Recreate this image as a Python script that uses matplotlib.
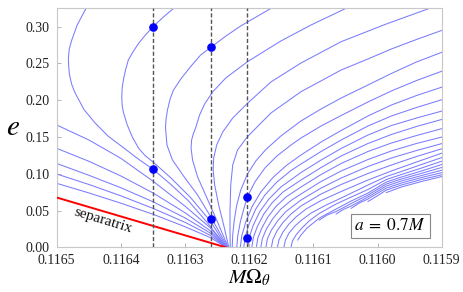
import matplotlib
matplotlib.use("Agg")
import matplotlib.pyplot as plt
import numpy as np

plt.rcParams['font.family'] = ['Liberation Serif', 'DejaVu Serif']
plt.rcParams['mathtext.fontset'] = 'stix'

# x values are given as offsets below 0.1165 in units of 1e-4
OMEGA_REF = 0.1165
UNIT = 1e-4

# separatrix
sep_dx = [0.0, 2.634]
sep_e = [0.0677, 0.0]

# lines leaving through the left edge
L1_dx = [0, 0.5, 1.0, 1.5, 2.0, 2.4, 2.638]
L1_e = [0.087, 0.074, 0.060, 0.045, 0.028, 0.013, 0]
L2_dx = [0, 0.5, 1.0, 1.5, 2.0, 2.4, 2.640]
L2_e = [0.0997, 0.0855, 0.070, 0.053, 0.034, 0.016, 0]
L3_dx = [0, 0.5, 1.0, 1.5, 2.0, 2.4, 2.642]
L3_e = [0.114, 0.098, 0.081, 0.062, 0.040, 0.019, 0]
L4_dx = [0, 0.5, 1.0, 1.5, 2.0, 2.4, 2.644]
L4_e = [0.1346, 0.117, 0.097, 0.074, 0.047, 0.022, 0]
L5_dx = [0, 0.5, 1.0, 1.5, 2.0, 2.4, 2.646]
L5_e = [0.1663, 0.146, 0.121, 0.090, 0.056, 0.026, 0]

# curves with a turning point
C1_dx = [0.49, 0.39, 0.318, 0.235, 0.195, 0.182, 0.187, 0.200, 0.236, 0.286, 0.427, 0.599, 0.803, 1.017, 1.257, 1.502, 1.773, 2.055, 2.352, 2.648]
C1_e = [0.330, 0.314, 0.302, 0.282, 0.2695, 0.257, 0.245, 0.234, 0.221, 0.210, 0.187, 0.169, 0.151, 0.137, 0.121, 0.106, 0.086, 0.063, 0.033, 0]
C2_dx = [1.89, 1.663, 1.502, 1.385, 1.277, 1.19, 1.116, 1.075, 1.045, 1.020, 1.014, 1.020, 1.038, 1.100, 1.178, 1.277, 1.38, 1.502, 1.773, 2.086, 2.399, 2.652]
C2_e = [0.330, 0.3132, 0.300, 0.289, 0.2774, 0.266, 0.2547, 0.242, 0.2302, 0.217, 0.2044, 0.193, 0.1840, 0.1663, 0.1500, 0.1346, 0.1245, 0.1160, 0.0949, 0.0677, 0.0351, 0]
C3_dx = [3.44, 2.868, 2.64, 2.415, 2.243, 2.086, 1.945, 1.820, 1.765, 1.726, 1.705, 1.695, 1.718, 1.804, 1.976, 2.196, 2.415, 2.665]
C3_e = [0.330, 0.3010, 0.2875, 0.2728, 0.2615, 0.2456, 0.2302, 0.2139, 0.201, 0.1867, 0.175, 0.1636, 0.1391, 0.1187, 0.0970, 0.0711, 0.0394, 0]
C4_dx = [4.63, 3.964, 3.494, 2.973, 2.634, 2.430, 2.305, 2.227, 2.164, 2.128, 2.102, 2.094, 2.117, 2.196, 2.321, 2.493, 2.673]
C4_e = [0.330, 0.3023, 0.2806, 0.2524, 0.2302, 0.2112, 0.1949, 0.1799, 0.1622, 0.154, 0.1459, 0.1350, 0.1187, 0.0956, 0.0711, 0.0371, 0]
C5_dx = [5.97, 5.138, 4.433, 3.807, 3.338, 2.973, 2.743, 2.587, 2.493, 2.446, 2.438, 2.462, 2.524, 2.602, 2.681]
C5_e = [0.330, 0.3037, 0.2796, 0.2506, 0.2248, 0.1958, 0.1758, 0.1568, 0.1391, 0.1214, 0.1051, 0.0847, 0.0575, 0.0303, 0]
C6_dx = [6.1, 5.607, 5.216, 4.851, 4.433, 3.807, 3.338, 2.973, 2.817, 2.743, 2.712, 2.701, 2.701, 2.704]
C6_e = [0.298, 0.2826, 0.2697, 0.2561, 0.2411, 0.2116, 0.1826, 0.1504, 0.1323, 0.1119, 0.0847, 0.0507, 0.0235, 0]
C7_dx = [2.735, 2.743, 2.767, 2.806, 2.868, 2.973, 3.103, 3.260, 3.494, 3.807, 4.120, 4.433, 4.851, 5.216, 5.607, 6.1]
C7_e = [0, 0.0167, 0.0371, 0.0575, 0.0779, 0.0997, 0.1174, 0.1330, 0.1514, 0.1718, 0.1881, 0.2030, 0.2207, 0.2364, 0.2520, 0.2685]

# curves rising from e = 0
C8_dx = [2.806, 2.821, 2.861, 2.915, 2.973, 3.088, 3.244, 3.432, 3.651, 3.807, 4.120, 4.433, 4.851, 5.216, 5.607, 6.1]
C8_e = [0, 0.0154, 0.0344, 0.0521, 0.0688, 0.0888, 0.1078, 0.1242, 0.1391, 0.1486, 0.1650, 0.1792, 0.1976, 0.2126, 0.2268, 0.2426]
C9_dx = [2.861, 2.884, 2.947, 3.041, 3.181, 3.369, 3.588, 3.807, 4.120, 4.433, 4.851, 5.216, 5.607, 6.1]
C9_e = [0, 0.0154, 0.0344, 0.0548, 0.0752, 0.0949, 0.1119, 0.1255, 0.1432, 0.1588, 0.1786, 0.1935, 0.2064, 0.2206]
C10_dx = [2.915, 2.939, 3.001, 3.103, 3.244, 3.432, 3.651, 3.807, 4.120, 4.433, 4.851, 5.216, 5.607, 6.1]
C10_e = [0, 0.0147, 0.0324, 0.0521, 0.0711, 0.0888, 0.1044, 0.1133, 0.1303, 0.1459, 0.1650, 0.1786, 0.1901, 0.2033]
C11_dx = [2.978, 3.001, 3.064, 3.166, 3.307, 3.494, 3.807, 4.120, 4.433, 4.851, 5.216, 5.607, 6.1]
C11_e = [0, 0.0140, 0.0303, 0.0487, 0.0657, 0.0820, 0.1017, 0.1187, 0.1344, 0.1527, 0.1656, 0.1758, 0.1876]
C12_dx = [3.041, 3.064, 3.127, 3.228, 3.354, 3.526, 3.807, 4.120, 4.433, 4.851, 5.216, 5.607, 6.1]
C12_e = [0, 0.0133, 0.0283, 0.0453, 0.0602, 0.0752, 0.0915, 0.1085, 0.1242, 0.1412, 0.1534, 0.1643, 0.1763]
C13_dx = [3.111, 3.134, 3.197, 3.291, 3.416, 3.573, 3.807, 4.120, 4.433, 4.851, 5.216, 5.607, 6.1]
C13_e = [0, 0.0126, 0.0262, 0.0412, 0.0555, 0.0684, 0.0820, 0.0990, 0.1140, 0.1303, 0.1418, 0.1520, 0.1637]
C14_dx = [3.181, 3.205, 3.268, 3.369, 3.494, 3.651, 3.807, 4.120, 4.433, 4.851, 5.216, 5.607, 6.1]
C14_e = [0, 0.0120, 0.0249, 0.0392, 0.0521, 0.0636, 0.0725, 0.0895, 0.1038, 0.1194, 0.1310, 0.1412, 0.1521]
C15_dx = [3.260, 3.283, 3.346, 3.447, 3.573, 3.807, 4.120, 4.433, 4.851, 5.216, 5.607, 6.1]
C15_e = [0, 0.0113, 0.0235, 0.0364, 0.0487, 0.0643, 0.0806, 0.0942, 0.1099, 0.1214, 0.1316, 0.1434]
C16_dx = [3.346, 3.369, 3.432, 3.526, 3.651, 3.807, 4.120, 4.433, 4.851, 5.216, 5.607, 6.1]
C16_e = [0, 0.0106, 0.0222, 0.0337, 0.0453, 0.0562, 0.0725, 0.0854, 0.1004, 0.1119, 0.1235, 0.1366]
C17_dx = [3.440, 3.463, 3.526, 3.620, 3.729, 3.886, 4.120, 4.433, 4.851, 5.216, 5.607, 6.1]
C17_e = [0, 0.0099, 0.0208, 0.0317, 0.0412, 0.0521, 0.0636, 0.0759, 0.0915, 0.1038, 0.1160, 0.1310]
C18_dx = [3.541, 3.565, 3.620, 3.713, 3.807, 3.964, 4.199, 4.433, 4.851, 5.138, 5.372, 5.685, 6.1]
C18_e = [0, 0.0099, 0.0194, 0.0290, 0.0364, 0.0466, 0.0575, 0.0670, 0.0847, 0.0963, 0.1031, 0.1126, 0.1250]
C19_dx = [3.651, 3.674, 3.729, 3.807, 3.933, 4.089, 4.355, 4.590, 4.851, 5.138, 5.372, 5.685, 6.1]
C19_e = [0, 0.0086, 0.0167, 0.0249, 0.0358, 0.0460, 0.0589, 0.0684, 0.0786, 0.0922, 0.0990, 0.1078, 0.1200]

# curves that begin above e = 0 (lower right)
T1_dx = [3.756, 3.807, 3.901, 4.094, 4.355, 4.590, 4.851, 5.138, 5.372, 5.685, 6.1]
T1_e = [0.0099, 0.0167, 0.0262, 0.0398, 0.0521, 0.0630, 0.0738, 0.0888, 0.0956, 0.1038, 0.1154]
T2_dx = [4.094, 4.214, 4.355, 4.590, 4.851, 5.138, 5.372, 5.685, 6.1]
T2_e = [0.0371, 0.0439, 0.0487, 0.0596, 0.0711, 0.0861, 0.0929, 0.1006, 0.1111]
T3_dx = [4.355, 4.465, 4.590, 4.851, 5.138, 5.372, 5.685, 6.1]
T3_e = [0.0453, 0.0514, 0.0562, 0.0684, 0.0834, 0.0902, 0.0976, 0.1071]
T4_dx = [4.590, 4.715, 4.851, 5.138, 5.372, 5.685, 6.1]
T4_e = [0.0530, 0.0602, 0.0657, 0.0806, 0.0874, 0.0949, 0.1036]
T5_dx = [4.851, 4.981, 5.138, 5.372, 5.685, 6.1]
T5_e = [0.0623, 0.0691, 0.0779, 0.0847, 0.0922, 0.1006]
T6_dx = [5.138, 5.372, 5.685, 6.1]
T6_e = [0.0745, 0.0820, 0.0895, 0.0983]

# marked frequencies and points
dashed_omega = [0.11635, 0.11626, 0.116203]
dot_omega = [0.11635, 0.11635, 0.11626, 0.11626, 0.116203, 0.116203]
dot_e = [0.300, 0.106, 0.273, 0.039, 0.069, 0.0127]

x_ticks = [0.1165, 0.1164, 0.1163, 0.1162, 0.1161, 0.1160, 0.1159]
x_tick_labels = ["0.1165", "0.1164", "0.1163", "0.1162", "0.1161", "0.1160", "0.1159"]
y_ticks = [0.00, 0.05, 0.10, 0.15, 0.20, 0.25, 0.30]
y_tick_labels = ["0.00", "0.05", "0.10", "0.15", "0.20", "0.25", "0.30"]

curves = [
    (L1_dx, L1_e), (L2_dx, L2_e), (L3_dx, L3_e), (L4_dx, L4_e), (L5_dx, L5_e),
    (C1_dx, C1_e), (C2_dx, C2_e), (C3_dx, C3_e), (C4_dx, C4_e), (C5_dx, C5_e),
    (C6_dx, C6_e), (C7_dx, C7_e), (C8_dx, C8_e), (C9_dx, C9_e), (C10_dx, C10_e),
    (C11_dx, C11_e), (C12_dx, C12_e), (C13_dx, C13_e), (C14_dx, C14_e), (C15_dx, C15_e),
    (C16_dx, C16_e), (C17_dx, C17_e), (C18_dx, C18_e), (C19_dx, C19_e),
    (T1_dx, T1_e), (T2_dx, T2_e), (T3_dx, T3_e), (T4_dx, T4_e), (T5_dx, T5_e), (T6_dx, T6_e),
]


def to_omega(dx):
    return OMEGA_REF - np.asarray(dx) * UNIT


fig = plt.figure(figsize=(4.63, 2.92), dpi=100)
ax = fig.add_axes([0.1225, 0.153, 0.8315, 0.8186])

for dx, e in curves:
    ax.plot(to_omega(dx), e, color='#7b7bff', lw=0.75, solid_joinstyle='round', zorder=2)

ax.plot(to_omega(sep_dx), sep_e, color='#ff0000', lw=1.4, zorder=3)

for om in dashed_omega:
    ax.axvline(om, color='#555555', lw=1.0, ls=(0, (3, 1.6)), zorder=4)

ax.plot(dot_omega, dot_e, 'o', color='#0000ff', ms=5.2, mec='#0000ff', zorder=5)

ax.set_xlim(0.1165, 0.1159)
ax.set_ylim(0.0, 0.325)
ax.set_xticks(x_ticks)
ax.set_xticklabels(x_tick_labels)
ax.set_yticks(y_ticks)
ax.set_yticklabels(y_tick_labels)
ax.tick_params(direction='in', length=3, width=0.6, color='#aaaaaa', labelsize=10,
               labelcolor='#222222')
ax.tick_params(axis='x', pad=4.5)
ax.tick_params(axis='y', pad=5)

for sp in ax.spines.values():
    sp.set_color('#c8c8c8')
    sp.set_linewidth(0.8)

ax.set_xlabel(r'$M\Omega_\theta$', fontsize=15, labelpad=1)
ax.set_ylabel(r'$e$', fontsize=21, rotation=0, labelpad=9, va='center')

ax.text(0.1164278, 0.0364, 'separatrix', fontsize=11, rotation=-17,
        ha='center', va='center', rotation_mode='anchor', color='#111111', zorder=6)

ax.text(0.866, 0.089, r'$a\;=\;0.7M$', transform=ax.transAxes, fontsize=12.5,
        ha='center', va='center', zorder=6,
        bbox=dict(boxstyle='square,pad=0.22', fc='white', ec='#888888', lw=0.8))

fig.savefig('out.png', dpi=100)
